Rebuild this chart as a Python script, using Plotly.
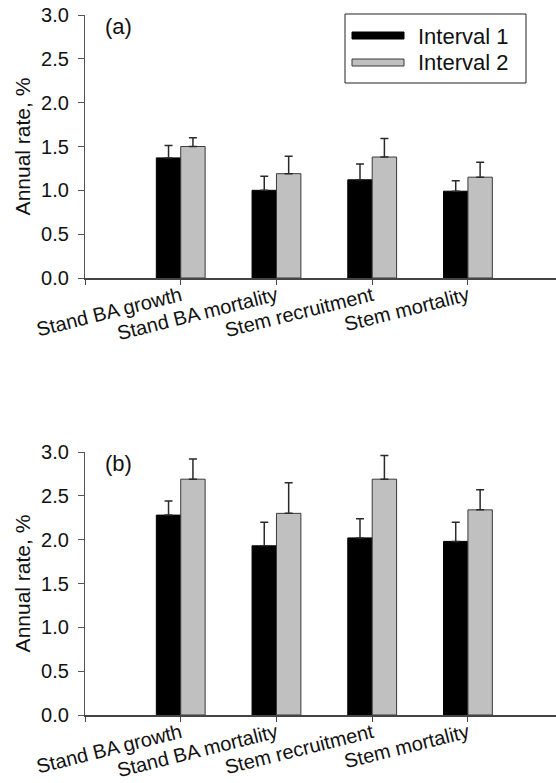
import plotly.graph_objects as go

categories = ["Stand BA growth", "Stand BA mortality", "Stem recruitment", "Stem mortality"]
series_names = ["Interval 1", "Interval 2"]

# Panel (a)
a_interval1 = [1.37, 1.00, 1.12, 0.99]
a_interval1_err = [0.14, 0.16, 0.18, 0.12]
a_interval2 = [1.50, 1.19, 1.38, 1.15]
a_interval2_err = [0.10, 0.20, 0.21, 0.17]

# Panel (b)
b_interval1 = [2.28, 1.93, 2.02, 1.98]
b_interval1_err = [0.16, 0.27, 0.22, 0.22]
b_interval2 = [2.69, 2.30, 2.69, 2.34]
b_interval2_err = [0.23, 0.35, 0.27, 0.23]

y_ticks = [0.0, 0.5, 1.0, 1.5, 2.0, 2.5, 3.0]
panel_labels = ["(a)", "(b)"]

W, H = 556, 783
L, R, T, B = 85, 0, 15, 68

xpos = list(range(1, len(categories) + 1))
colors = ["#000000", "#c0c0c0"]
outline = ["#000000", "#3a3a3a"]
font_family = "Liberation Sans, Arial, sans-serif"

fig = go.Figure()

panels = [
    ("x", "y", [a_interval1, a_interval2], [a_interval1_err, a_interval2_err]),
    ("x2", "y2", [b_interval1, b_interval2], [b_interval1_err, b_interval2_err]),
]
for xa, ya, vals, errs in panels:
    for i in range(2):
        fig.add_trace(go.Bar(
            x=xpos, y=vals[i], name=series_names[i], xaxis=xa, yaxis=ya,
            marker=dict(color=colors[i], line=dict(color=outline[i], width=1)),
            error_y=dict(type="data", array=errs[i], arrayminus=[0] * len(errs[i]),
                         symmetric=False, color="#2a2a2a", thickness=1.5, width=4),
            showlegend=False,
        ))

axis_common_x = dict(
    range=[0, 4.92], tickmode="array", tickvals=[0] + xpos, ticktext=[""] + categories,
    tickangle=-14, ticks="outside", ticklen=5, tickcolor="#444", showline=True,
    linecolor="#444", linewidth=1.5, showgrid=False, zeroline=False, automargin=False,
    tickfont=dict(size=20, color="#111", family=font_family),
    ticklabelstandoff=-8,
)
axis_common_y = dict(
    range=[0, 3.0], tickmode="array", tickvals=y_ticks,
    ticktext=[f"{v:.1f}" for v in y_ticks], ticks="outside", ticklen=6, tickcolor="#555",
    showline=True, linecolor="#555", linewidth=1.2, showgrid=False, zeroline=False,
    automargin=False,
    tickfont=dict(size=20, color="#111", family=font_family),
    ticklabelstandoff=5,
    title=dict(text="Annual rate, %", font=dict(size=21, color="#111", family=font_family), standoff=4),
)

plot_h = H - T - B
top_y0 = (715 - 278) / plot_h
bot_y1 = (715 - 452) / plot_h

fig.update_layout(
    width=W, height=H, autosize=False,
    margin=dict(l=L, r=R, t=T, b=B),
    paper_bgcolor="white", plot_bgcolor="white",
    barmode="group", bargap=0.49, bargroupgap=0,
    xaxis=dict(domain=[0, 1], anchor="y", **axis_common_x),
    yaxis=dict(domain=[top_y0, 1.0], anchor="x", **axis_common_y),
    xaxis2=dict(domain=[0, 1], anchor="y2", **axis_common_x),
    yaxis2=dict(domain=[0, bot_y1], anchor="x2", **axis_common_y),
    font=dict(family=font_family, color="#111"),
)

# Panel labels
for lab, xr, yr in [(panel_labels[0], "x domain", "y domain"), (panel_labels[1], "x2 domain", "y2 domain")]:
    fig.add_annotation(text=lab, xref=xr, yref=yr, x=(118 - L) / (W - L), y=0.955,
                       xanchor="center", yanchor="middle", showarrow=False,
                       font=dict(size=22, color="#111", family=font_family))

# Legend (drawn in the top panel)
pw = W - L
ph = 278 - 15
def dx(px):
    return (px - L) / pw
def dy(py):
    return (278 - py) / ph

fig.add_shape(type="rect", xref="x domain", yref="y domain",
              x0=dx(345), x1=dx(526), y0=dy(83), y1=dy(14),
              line=dict(color="#222", width=1), fillcolor="white", layer="above")
swatch_rows = [(32, 39, 36), (59, 66, 63)]
for i, (ytop, ybot, ytext) in enumerate(swatch_rows):
    fig.add_shape(type="rect", xref="x domain", yref="y domain",
                  x0=dx(352), x1=dx(404), y0=dy(ybot), y1=dy(ytop),
                  line=dict(color=outline[i], width=1), fillcolor=colors[i], layer="above")
    fig.add_annotation(text=series_names[i], xref="x domain", yref="y domain",
                       x=dx(416), y=dy(ytext), xanchor="left", yanchor="middle",
                       showarrow=False, font=dict(size=22, color="#111", family=font_family))

fig.write_html("out.html")
